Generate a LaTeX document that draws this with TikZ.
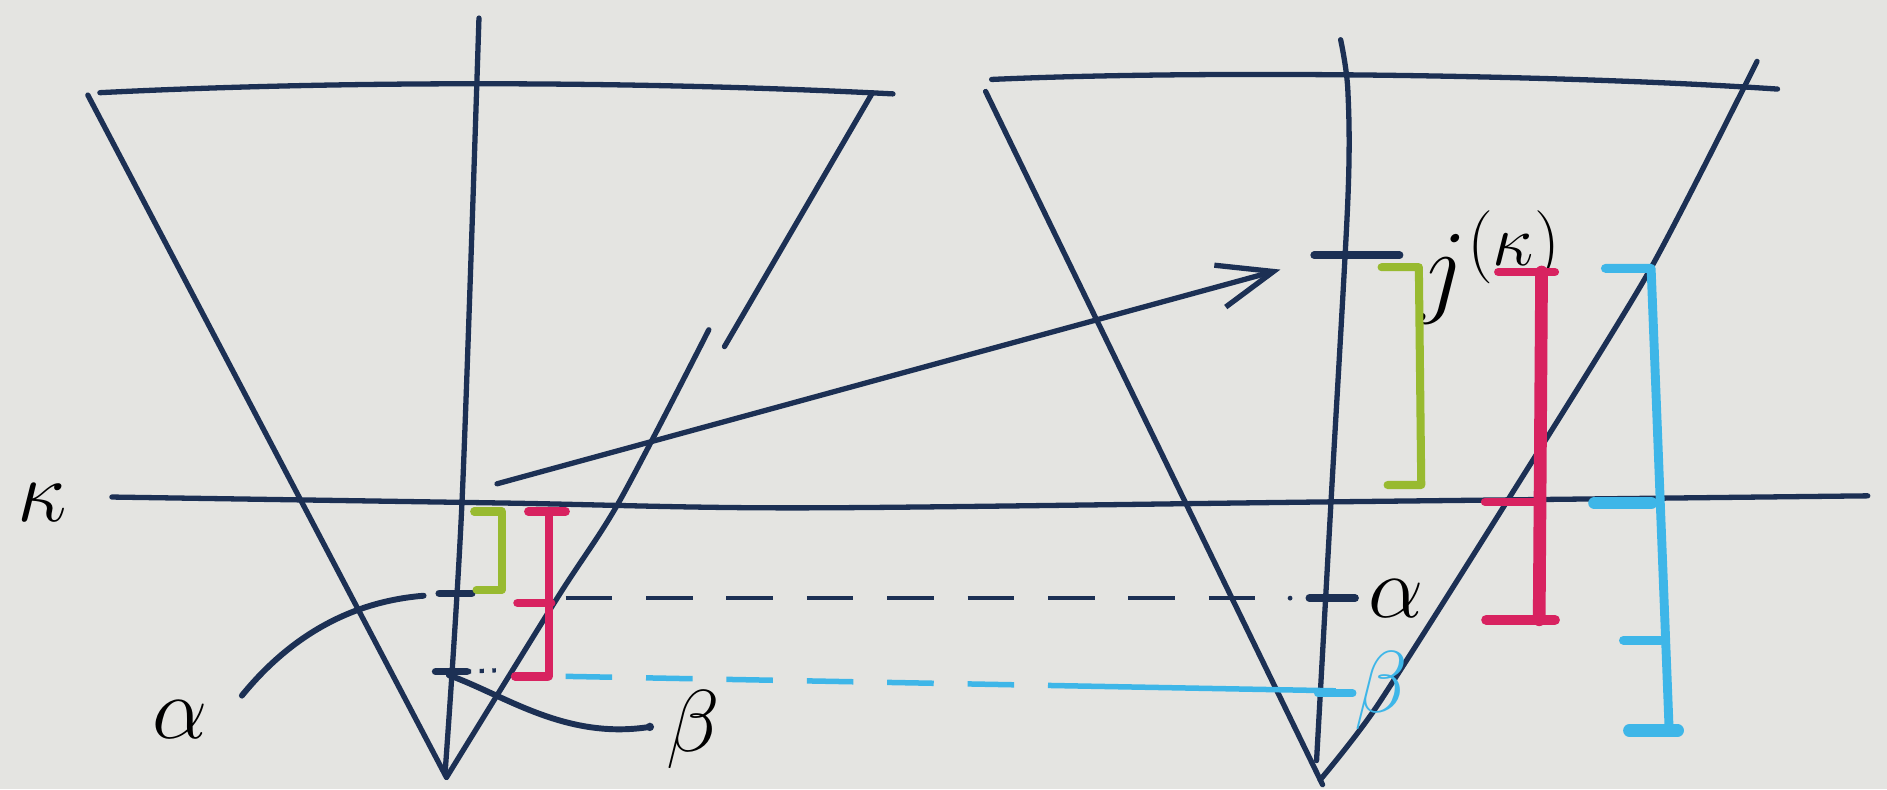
\documentclass[tikz,border=0pt]{standalone}
\usetikzlibrary{arrows.meta}
\definecolor{paper}{RGB}{228,228,225}
\definecolor{ink}{RGB}{28,48,84}
\definecolor{lime}{RGB}{152,186,48}
\definecolor{rose}{RGB}{216,34,96}
\definecolor{sky}{RGB}{62,182,232}
\begin{document}
\begin{tikzpicture}[x=0.01cm,y=-0.01cm,
  inkline/.style={draw=ink,line width=1.25pt,line cap=round,line join=round},
  tickline/.style={draw=ink,line width=1.8pt,line cap=round},
  limeline/.style={draw=lime,line width=1.9pt,line cap=round,line join=round},
  roseline/.style={draw=rose,line width=2pt,line cap=round,line join=round},
  skyline/.style={draw=sky,line width=2.1pt,line cap=round,line join=round},
  lbl/.style={inner sep=0pt,font=\fontsize{20}{24}\selectfont}]
\fill[paper] (0,0) rectangle (1568,656);
\useasboundingbox (0,0) rectangle (1568,656);

% ---------- left cone ----------
\coordinate (LTl) at (83,77);  \coordinate (LTr) at (742,78);
\coordinate (LSl) at (73,79);  \coordinate (LV) at (371,646);
\coordinate (LRu) at (725,77); \coordinate (LRe) at (602,288);
\coordinate (LRs) at (589,274);
\coordinate (LAt) at (398,15); \coordinate (LAb) at (370,640);
\draw[inkline] (LTl) .. controls (300,66) and (550,68) .. (LTr);
\draw[inkline] (LSl) -- (LV);
\draw[inkline] (LRu) -- (LRe);
\draw[inkline] plot[smooth] coordinates {(LRs) (515,416) (463,497) (LV)};
\draw[inkline] plot[smooth] coordinates {(LAt) (384,415) (LAb)};

% ---------- kappa line ----------
\coordinate (K0) at (93,413); \coordinate (K1) at (1552,412);
\draw[inkline] plot[smooth] coordinates {(K0) (420,418) (665,422) (1106,417) (K1)};
\node[lbl] (kap) at (35,418) {$\kappa$};

% ---------- arrow ----------
\coordinate (A0) at (413,402); \coordinate (A1) at (1064,224);
\draw[inkline,-{Straight Barb[length=4.6mm,width=3.6mm,line width=1.25pt]}] (A0) -- (A1);

% ---------- right cone ----------
\coordinate (RTl) at (824,66); \coordinate (RTr) at (1477,74);
\coordinate (RSl) at (819,76); \coordinate (RV) at (1099,652);
\coordinate (RRt) at (1460,51); \coordinate (RRb) at (1097,648);
\coordinate (RAt) at (1114,33); \coordinate (RAb) at (1094,632);
\draw[inkline] (RTl) .. controls (1000,58) and (1300,62) .. (RTr);
\draw[inkline] (RSl) -- (RV);
\draw[inkline] plot[smooth,tension=0.4] coordinates {(RRt) (1370,226) (1252,417) (1144,587) (RRb)};
\draw[inkline] plot[smooth,tension=0.5] coordinates {(RAt) (1120,75) (1120,166) (1106,417) (RAb)};

% ---------- left alpha / beta ----------
\coordinate (la1) at (365,493); \coordinate (la2) at (392,493);
\coordinate (lb1) at (362,558); \coordinate (lb2) at (388,558); \coordinate (lb3) at (412,557);
\draw[tickline] (la1) -- (la2);
\draw[tickline] (lb1) -- (lb2);
\draw[draw=ink,line width=1pt,dotted] (lb2) -- (lb3);
\node[lbl] (alphaL) at (150,598) {$\alpha$};
\node[lbl] (betaL) at (576,606) {$\beta$};
\coordinate (ac0) at (201,578); \coordinate (ac1) at (352,495);
\draw[inkline,line width=1.4pt] (ac0) .. controls (240,530) and (290,500) .. (ac1);
\coordinate (bc0) at (373,561); \coordinate (bc1) at (540,604);
\draw[inkline,line width=1.4pt] (bc0) .. controls (420,578) and (470,615) .. (bc1);
\fill[ink] (bc1) circle (3.5);

% ---------- left brackets ----------
\draw[limeline] (394,425) -- (417,425) -- (417,490) -- (396,490);
\draw[roseline] (439,425) -- (470,425);
\draw[roseline] (456,425) -- (456,562);
\draw[roseline] (430,501) -- (458,501);
\draw[roseline] (428,562) -- (455,562);

% ---------- dashed levels ----------
\coordinate (da0) at (470,497); \coordinate (da1) at (1060,497);
\draw[draw=ink,line width=1.1pt,dash pattern=on 11pt off 8pt] (da0) -- (da1);
\fill[ink] (1072,497) circle (2);
\coordinate (ra1) at (1088,497); \coordinate (ra2) at (1126,497);
\draw[tickline] (ra1) -- (ra2);
\node[lbl] (alphaR) at (1160,497) {$\alpha$};

\coordinate (db0) at (470,562); \coordinate (db1) at (895,570); \coordinate (db2) at (1110,574);
\draw[draw=sky,line width=1.3pt,dash pattern=on 11pt off 8pt] (db0) -- (db1);
\draw[draw=sky,line width=1.3pt] (db1) -- (db2);
\coordinate (rb1) at (1095,576); \coordinate (rb2) at (1124,576);
\draw[skyline,line width=1.8pt] (rb1) -- (rb2);
\node[lbl,text=sky] (betaR) at (1148,574) {$\beta$};

% ---------- right side: j(kappa) ----------
\coordinate (jt1) at (1092,212); \coordinate (jt2) at (1163,212);
\draw[tickline] (jt1) -- (jt2);
\node[inner sep=0pt,font=\fontsize{24}{28}\selectfont,anchor=west] (jk) at (1178,222) {$j^{(\kappa)}$};

\draw[limeline] (1148,222) -- (1179,222) -- (1181,403) -- (1153,403);

\draw[roseline] (1245,226) -- (1292,226);
\draw[roseline,line width=3pt] (1281,226) -- (1279,515);
\draw[roseline] (1234,417) -- (1277,417);
\draw[roseline,line width=2.4pt] (1235,515) -- (1292,515);

\draw[skyline] (1334,223) -- (1372,223) -- (1387,607);
\draw[skyline,line width=3pt] (1325,418) -- (1372,418);
\draw[skyline] (1349,532) -- (1380,532);
\draw[skyline,line width=3pt] (1354,607) -- (1394,607);
\end{tikzpicture}
\end{document}
